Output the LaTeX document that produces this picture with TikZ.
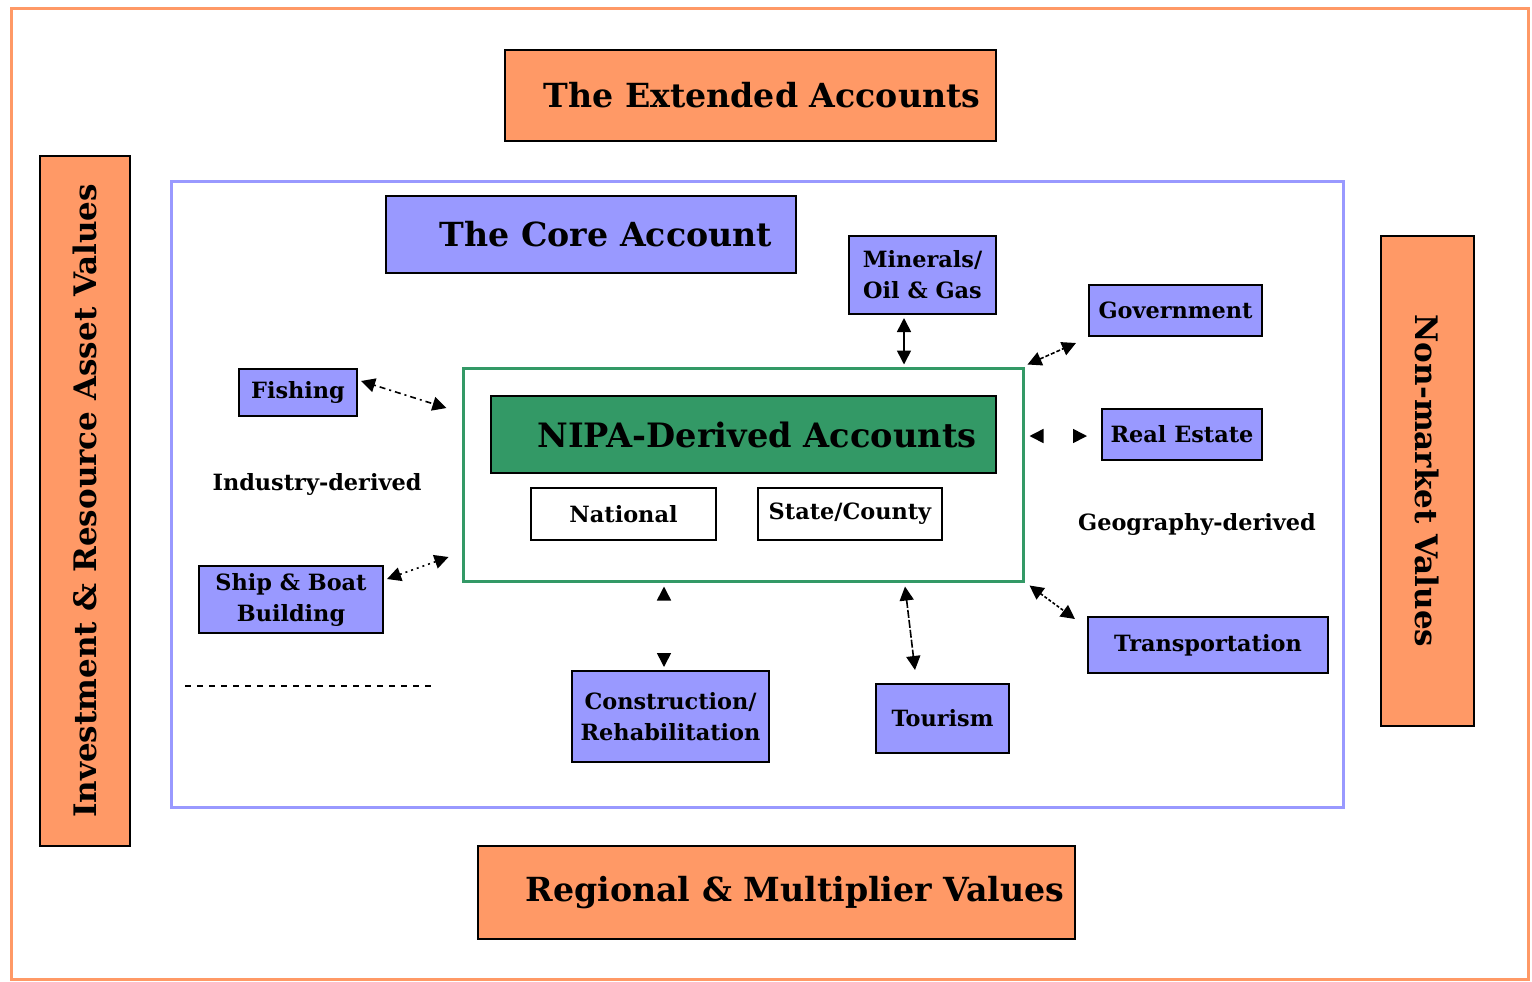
\documentclass[tikz,border=0pt]{standalone}
\usepackage{fontspec}
\setmainfont{DejaVu Serif}
\usetikzlibrary{arrows.meta,calc}
\definecolor{accorange}{HTML}{FF9966}
\definecolor{accblue}{HTML}{9999FF}
\definecolor{accgreen}{HTML}{339966}
\begin{document}
\begin{tikzpicture}[x=0.5pt,y=-0.5pt,
  size/.style 2 args={minimum width=#1*0.5pt, minimum height=#2*0.5pt},
  framebox/.style={draw=#1, line width=1.5pt, inner sep=0pt},
  bigbox/.style={draw=black, line width=1pt, fill=accorange, inner sep=0pt,
    font=\bfseries\fontsize{16.6}{20}\selectfont},
  sidebox/.style={bigbox, font=\bfseries\fontsize{15.5}{19}\selectfont},
  corebox/.style={draw=black, line width=1pt, fill=accblue, inner sep=0pt,
    font=\bfseries\fontsize{16.6}{20}\selectfont},
  nipabox/.style={draw=black, line width=1pt, fill=accgreen, inner sep=0pt,
    font=\bfseries\fontsize{16.8}{20}\selectfont},
  sector/.style={draw=black, line width=1pt, fill=accblue, inner sep=0pt, align=center,
    font=\bfseries\fontsize{11.2}{15.5}\selectfont},
  levelbox/.style={draw=black, line width=0.8pt, fill=white, inner sep=0pt,
    font=\bfseries\fontsize{11.2}{13}\selectfont},
  caption/.style={inner sep=0pt, font=\bfseries\fontsize{11.2}{13}\selectfont},
  link/.style={{Triangle[length=7pt,width=7pt]}-{Triangle[length=7pt,width=7pt]}, line width=0.8pt},
  gaplink/.style={{Triangle[length=7pt,width=7pt,color=black]}-{Triangle[length=7pt,width=7pt,color=black]},
    draw=white, line width=0.8pt},
]
\useasboundingbox (0,0) rectangle (1532,981);

% frames
\node[framebox=accorange, size={1517}{971}] (outer) at (769.5,493.5) {};
\node[framebox=accblue, size={1172}{626}] (core) at (757,494) {};
\node[framebox=accgreen, size={560}{213}] (nipaframe) at (743,474.5) {};

% extended account boxes
\node[bigbox, size={491}{91}] (ext) at (750.5,95.5) {\hspace*{11.5pt}The Extended Accounts};
\node[bigbox, size={597}{93}] (regional) at (776.5,892.5) {\hspace*{18.5pt}Regional \& Multiplier Values};
\node[sidebox, size={690}{90}, rotate=90] (invest) at (85,501) {Investment \& Resource Asset Values};
\node[sidebox, size={490}{93}, rotate=-90] (nonmarket) at (1427.5,481) {Non-market Values};

% core account
\node[corebox, size={410}{77}] (coretitle) at (591,234.5) {\hspace*{15pt}The Core Account};
\node[nipabox, size={505}{77}] (nipa) at (743.5,434.5) {\hspace*{13.5pt}NIPA-Derived Accounts};
\node[levelbox, size={185}{52}] (national) at (623.5,514) {National};
\node[levelbox, size={184}{52}] (state) at (850,514) {State/County};

% sector boxes
\node[sector, size={118}{47}] (fish) at (298,392.5) {Fishing};
\node[sector, size={184}{67}] (ship) at (291,599.5) {Ship \& Boat\\Building};
\node[sector, size={147}{78}] (minerals) at (922.5,275) {Minerals/\\Oil \& Gas};
\node[sector, size={173}{51}] (gov) at (1175.5,310.5) {Government};
\node[sector, size={160}{51}] (realestate) at (1182,434.5) {Real Estate};
\node[sector, size={240}{56}] (transport) at (1208,645) {Transportation};
\node[sector, size={133}{69}] (tourism) at (942.5,718.5) {Tourism};
\node[sector, size={197}{91}] (construction) at (670.5,716.5) {Construction/\\Rehabilitation};

% captions
\node[caption] (industry) at (317,484) {Industry-derived};
\node[caption] (geography) at (1197,524) {Geography-derived};
\coordinate (divstart) at (185,686);
\coordinate (divend) at (436,686);
\draw[dashed, line width=0.6pt] (divstart) -- (divend);

% connectors
\draw[link, dash pattern=on 1pt off 2pt on 3pt off 2pt]
  ([shift={(3,-11.5)}]fish.east) -- ([shift={(-15,-66.5)}]nipaframe.west);
\draw[link, dash pattern=on 1pt off 2pt]
  ([shift={(3,-20.5)}]ship.east) -- ([shift={(-13,82.5)}]nipaframe.west);
\draw[link]
  ([shift={(-18.5,3)}]minerals.south) -- ([shift={(161,-2)}]nipaframe.north);
\draw[link, dash pattern=on 2pt off 1pt]
  ([shift={(3,-2)}]nipaframe.north east) -- ([shift={(-12,32.5)}]gov.west);
\draw[gaplink]
  ([shift={(5,-38.5)}]nipaframe.east) -- ([shift={(-14,1.5)}]realestate.west);
\draw[gaplink]
  ([shift={(-79,4)}]nipaframe.south) -- ([shift={(-6.5,-3)}]construction.north);
\draw[link, dash pattern=on 4pt off 1pt]
  ([shift={(162,4)}]nipaframe.south) -- ([shift={(-27.5,-13)}]tourism.north);
\draw[link, dash pattern=on 1.5pt off 1pt]
  ([shift={(5,3)}]nipaframe.south east) -- ([shift={(-12,-26)}]transport.west);
\end{tikzpicture}
\end{document}
